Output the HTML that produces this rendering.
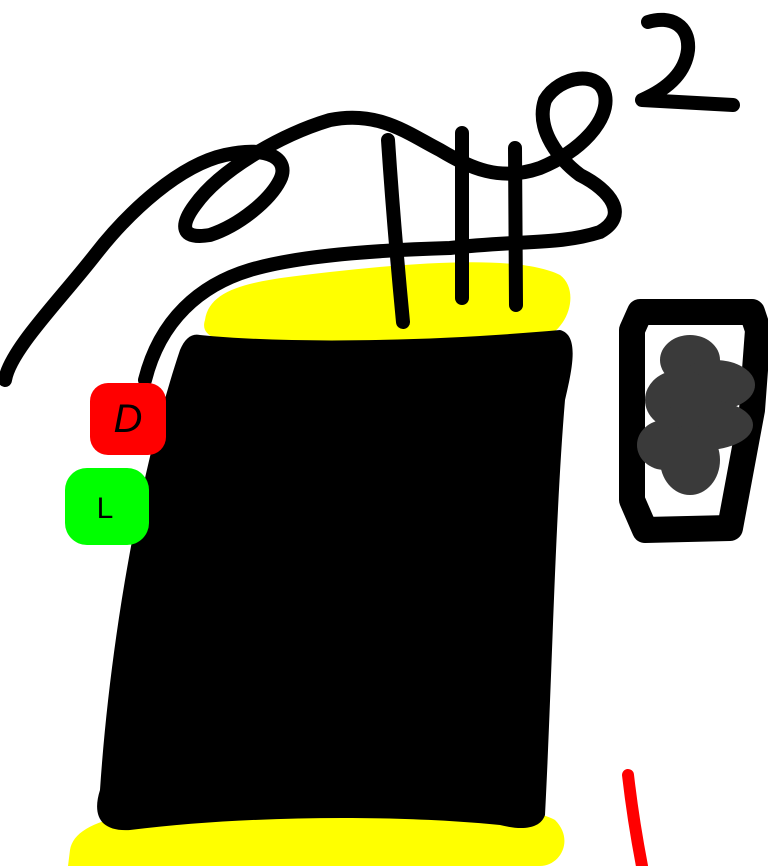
<!DOCTYPE html>
<html><head><meta charset="utf-8"><style>
html,body{margin:0;padding:0;background:#fff;}
svg{display:block;}
</style></head><body>
<svg width="768" height="866" viewBox="0 0 768 866" xmlns="http://www.w3.org/2000/svg">
<rect width="768" height="866" fill="#fff"/>
<!-- yellow top -->
<path d="M205,320 C210,285 260,280 330,272 C420,262 520,255 560,275 C580,290 570,330 540,340 C460,350 330,352 250,345 C215,342 200,335 205,320 Z" fill="#ffff00"/>
<!-- yellow bottom -->
<path d="M70,850 C75,820 130,808 250,806 C380,804 520,800 555,820 C575,840 560,866 540,866 L68,866 Z" fill="#ffff00"/>
<!-- black body -->
<path d="M200,335 C300,345 450,340 560,330 C580,335 572,370 565,400 C555,520 552,680 545,815 C540,830 520,830 500,825 C400,815 250,815 130,830 C100,832 92,815 100,790 C110,640 140,470 180,350 C185,338 192,333 200,335 Z" fill="#000"/>
<!-- black curve -->
<g fill="none" stroke="#000" stroke-width="14" stroke-linecap="round" stroke-linejoin="round">
<path d="M5,380 C10,350 60,300 95,255 C130,210 180,165 225,155 C270,145 290,160 280,180 C270,200 240,225 210,235 C180,240 180,225 195,205 C220,170 280,135 330,120 C380,110 410,135 440,150 C470,168 500,182 540,168 C580,152 610,120 605,95 C600,70 560,75 545,100 C535,130 560,160 580,175 C610,190 630,215 600,232 C560,245 520,240 450,248 C380,250 300,255 250,270 C200,285 160,320 145,380"/>
<path d="M388,140 C392,200 398,270 403,322"/>
<path d="M462,133 L462,298"/>
<path d="M515,148 L516,305"/>
<path d="M648,22 C670,15 690,25 688,50 C685,75 665,90 642,100 C680,102 710,104 733,105"/>
</g>
<!-- D -->
<rect x="90" y="383" width="76" height="72" rx="18" fill="#ff0000"/>
<text x="128" y="432" font-family="Liberation Sans, sans-serif" font-size="40" text-anchor="middle" fill="#000" font-style="italic">D</text>
<!-- L -->
<rect x="65" y="468" width="84" height="77" rx="22" fill="#00ff00"/>
<text x="105" y="518" font-family="Liberation Sans, sans-serif" font-size="30" text-anchor="middle" fill="#000">L</text>
<!-- right box -->
<path d="M640,312 L752,312 L758,330 L752,410 L730,528 L645,530 L632,500 L632,330 Z" fill="#fff" stroke="#000" stroke-width="26" stroke-linejoin="round"/>
<g fill="#3a3a3a">
<ellipse cx="690" cy="360" rx="30" ry="25"/>
<ellipse cx="715" cy="385" rx="40" ry="25"/>
<ellipse cx="680" cy="400" rx="35" ry="30"/>
<ellipse cx="705" cy="425" rx="48" ry="25"/>
<ellipse cx="665" cy="445" rx="28" ry="25"/>
<ellipse cx="690" cy="460" rx="30" ry="35"/>
</g>
<!-- red line -->
<path d="M628,775 C632,810 637,840 642,866" stroke="#ff0000" stroke-width="12" fill="none" stroke-linecap="round"/>
</svg>
</body></html>
